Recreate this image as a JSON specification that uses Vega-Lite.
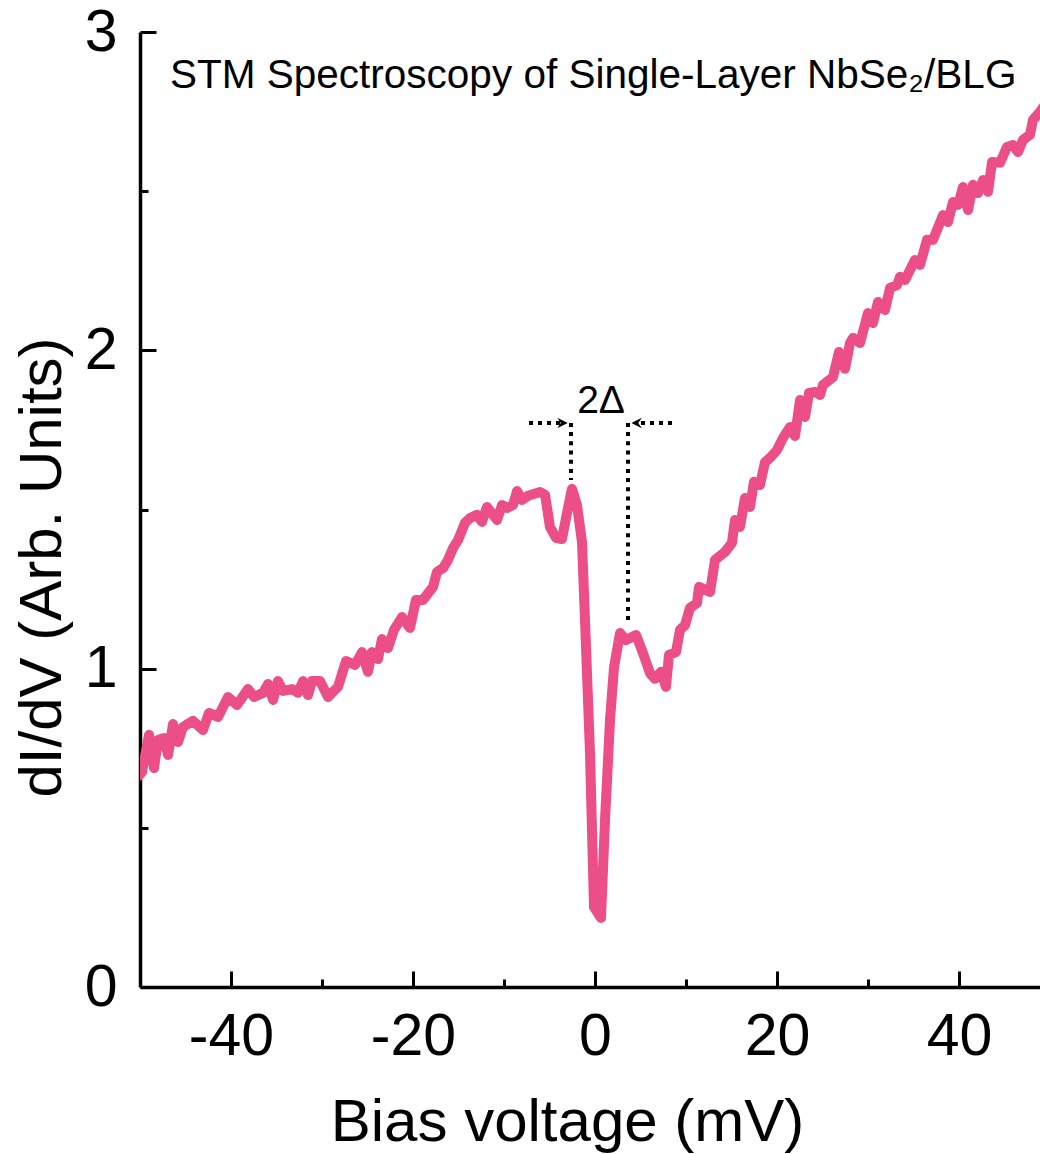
{
  "$schema": "https://vega.github.io/schema/vega-lite/v6.json",
  "width": 900,
  "height": 955,
  "autosize": {"type": "none"},
  "padding": {"left": 140, "top": 32, "right": 0, "bottom": 167},
  "background": "white",
  "config": {
    "view": {"stroke": null},
    "axis": {
      "domainColor": "black", "domainWidth": 3.5, "tickColor": "black", "tickWidth": 3,
      "labelFont": "Liberation Sans", "labelFontSize": 59, "labelColor": "black",
      "titleFont": "Liberation Sans", "titleFontSize": 60, "titleFontWeight": "normal", "titleColor": "black",
      "grid": false
    }
  },
  "datasets": {
    "curve": [
      {"v": -50.3, "g": 0.66},
      {"v": -49.78, "g": 0.675}, {"v": -49.01, "g": 0.792}, {"v": -48.46, "g": 0.688}, {"v": -48.02, "g": 0.776},
      {"v": -47.36, "g": 0.782}, {"v": -46.92, "g": 0.729}, {"v": -46.37, "g": 0.826}, {"v": -45.82, "g": 0.770},
      {"v": -45.27, "g": 0.817}, {"v": -44.18, "g": 0.836}, {"v": -43.08, "g": 0.807}, {"v": -42.42, "g": 0.861},
      {"v": -41.43, "g": 0.848}, {"v": -40.33, "g": 0.911}, {"v": -39.34, "g": 0.886}, {"v": -38.13, "g": 0.936},
      {"v": -37.47, "g": 0.911}, {"v": -36.48, "g": 0.924}, {"v": -35.93, "g": 0.952}, {"v": -35.38, "g": 0.902},
      {"v": -34.84, "g": 0.961}, {"v": -34.29, "g": 0.930}, {"v": -33.30, "g": 0.936}, {"v": -32.64, "g": 0.924},
      {"v": -32.09, "g": 0.961}, {"v": -31.54, "g": 0.917}, {"v": -31.10, "g": 0.961}, {"v": -30.22, "g": 0.961},
      {"v": -29.34, "g": 0.911}, {"v": -28.24, "g": 0.943}, {"v": -27.36, "g": 1.024}, {"v": -26.37, "g": 1.012},
      {"v": -25.60, "g": 1.052}, {"v": -24.95, "g": 0.990}, {"v": -24.51, "g": 1.052}, {"v": -23.85, "g": 1.030},
      {"v": -23.41, "g": 1.093}, {"v": -22.75, "g": 1.065}, {"v": -22.09, "g": 1.122}, {"v": -21.21, "g": 1.162},
      {"v": -20.33, "g": 1.128}, {"v": -19.67, "g": 1.216}, {"v": -18.90, "g": 1.216}, {"v": -17.80, "g": 1.257},
      {"v": -17.36, "g": 1.304}, {"v": -16.70, "g": 1.316}, {"v": -16.15, "g": 1.342}, {"v": -15.60, "g": 1.379},
      {"v": -15.05, "g": 1.404}, {"v": -14.29, "g": 1.458}, {"v": -13.74, "g": 1.473}, {"v": -12.97, "g": 1.483},
      {"v": -12.42, "g": 1.461}, {"v": -11.87, "g": 1.508}, {"v": -10.77, "g": 1.467}, {"v": -10.22, "g": 1.514},
      {"v": -9.67, "g": 1.505}, {"v": -9.01, "g": 1.514}, {"v": -8.57, "g": 1.558}, {"v": -8.02, "g": 1.530},
      {"v": -7.36, "g": 1.543}, {"v": -6.04, "g": 1.555}, {"v": -5.49, "g": 1.546}, {"v": -4.95, "g": 1.445},
      {"v": -4.29, "g": 1.411}, {"v": -3.63, "g": 1.407}, {"v": -3.08, "g": 1.489}, {"v": -2.53, "g": 1.565},
      {"v": -1.98, "g": 1.514}, {"v": -1.43, "g": 1.398}, {"v": -1.10, "g": 1.153}, {"v": -0.55, "g": 0.735},
      {"v": -0.11, "g": 0.251}, {"v": 0.66, "g": 0.217}, {"v": 1.10, "g": 0.525}, {"v": 1.65, "g": 0.839},
      {"v": 2.09, "g": 1.005}, {"v": 2.75, "g": 1.112}, {"v": 3.41, "g": 1.090}, {"v": 4.51, "g": 1.106},
      {"v": 5.27, "g": 1.049}, {"v": 6.04, "g": 0.986}, {"v": 6.59, "g": 0.968}, {"v": 7.25, "g": 0.990},
      {"v": 7.80, "g": 0.943}, {"v": 8.13, "g": 1.043}, {"v": 8.90, "g": 1.052}, {"v": 9.34, "g": 1.122},
      {"v": 9.89, "g": 1.137}, {"v": 10.44, "g": 1.191}, {"v": 11.21, "g": 1.206}, {"v": 11.43, "g": 1.257},
      {"v": 12.64, "g": 1.241}, {"v": 13.19, "g": 1.342}, {"v": 14.29, "g": 1.367}, {"v": 15.05, "g": 1.395},
      {"v": 15.38, "g": 1.467}, {"v": 15.93, "g": 1.445}, {"v": 16.48, "g": 1.536}, {"v": 17.03, "g": 1.508},
      {"v": 17.47, "g": 1.587}, {"v": 18.13, "g": 1.577}, {"v": 18.68, "g": 1.649}, {"v": 19.23, "g": 1.662},
      {"v": 20.00, "g": 1.687}, {"v": 20.66, "g": 1.725}, {"v": 21.43, "g": 1.759}, {"v": 21.98, "g": 1.731},
      {"v": 22.53, "g": 1.844}, {"v": 23.08, "g": 1.791}, {"v": 23.52, "g": 1.866}, {"v": 24.18, "g": 1.869},
      {"v": 24.73, "g": 1.860}, {"v": 25.05, "g": 1.891}, {"v": 26.15, "g": 1.916}, {"v": 26.81, "g": 1.995},
      {"v": 27.47, "g": 1.942}, {"v": 28.02, "g": 2.023}, {"v": 28.35, "g": 2.039}, {"v": 29.12, "g": 2.023},
      {"v": 30.00, "g": 2.117}, {"v": 30.55, "g": 2.086}, {"v": 31.10, "g": 2.152}, {"v": 31.87, "g": 2.127},
      {"v": 32.42, "g": 2.196}, {"v": 33.19, "g": 2.205}, {"v": 33.52, "g": 2.231}, {"v": 34.07, "g": 2.221},
      {"v": 35.16, "g": 2.284}, {"v": 35.71, "g": 2.268}, {"v": 36.48, "g": 2.347}, {"v": 37.14, "g": 2.347},
      {"v": 38.24, "g": 2.425}, {"v": 38.79, "g": 2.403}, {"v": 39.34, "g": 2.466}, {"v": 39.89, "g": 2.457},
      {"v": 40.44, "g": 2.513}, {"v": 40.99, "g": 2.441}, {"v": 41.54, "g": 2.520}, {"v": 42.09, "g": 2.494},
      {"v": 42.64, "g": 2.535}, {"v": 43.19, "g": 2.498}, {"v": 43.63, "g": 2.592}, {"v": 44.51, "g": 2.589},
      {"v": 45.27, "g": 2.639}, {"v": 45.93, "g": 2.645}, {"v": 46.48, "g": 2.623}, {"v": 47.03, "g": 2.661},
      {"v": 47.80, "g": 2.677}, {"v": 48.13, "g": 2.724}, {"v": 48.90, "g": 2.749}, {"v": 49.40, "g": 2.77}
    ],
    "vlines": [
      {"x": -2.64, "y1": 1.772, "y2": 1.593},
      {"x": 3.63, "y1": 1.772, "y2": 1.137}
    ],
    "hlines": [
      {"x1": -7.25, "x2": -3.6, "y": 1.772},
      {"x1": 8.46, "x2": 4.6, "y": 1.772}
    ],
    "heads": [
      {"x": -3.0, "y": 1.772, "dir": "right"},
      {"x": 4.0, "y": 1.772, "dir": "left"}
    ],
    "labels": [
      {"x": 0.66, "y": 1.803, "t": "2Δ", "kind": "delta"},
      {"x": -46.7, "y": 2.824, "t": "STM Spectroscopy of Single-Layer NbSe₂/BLG", "kind": "title"}
    ]
  },
  "layer": [
    {
      "data": {"name": "curve"},
      "mark": {"type": "line", "color": "#EC4E87", "strokeWidth": 10, "strokeJoin": "round", "strokeCap": "round", "clip": true},
      "encoding": {
        "x": {
          "field": "v", "type": "quantitative",
          "scale": {"domain": [-50, 48.9], "nice": false, "zero": false},
          "axis": {
            "values": [-40, -30, -20, -10, 0, 10, 20, 30, 40],
            "tickSize": {"condition": {"test": "datum.value % 20 === 0", "value": -16}, "value": -8},
            "labelExpr": "datum.value % 20 === 0 ? toString(datum.value) : ''",
            "labelPadding": 36,
            "labelFlush": false,
            "title": "Bias voltage (mV)",
            "titleX": 427, "titleY": 153, "titleBaseline": "alphabetic", "titleAlign": "center"
          }
        },
        "y": {
          "field": "g", "type": "quantitative",
          "scale": {"domain": [0, 3], "nice": false},
          "axis": {
            "values": [0, 0.5, 1, 1.5, 2, 2.5, 3],
            "tickSize": {"condition": {"test": "datum.value % 1 === 0", "value": -16}, "value": -8},
            "labelExpr": "datum.value % 1 === 0 ? toString(datum.value) : ''",
            "labelPadding": 39,
            "labelOverlap": false,
            "title": "dI/dV (Arb. Units)",
            "titleAngle": -90, "titleX": -80, "titleY": 535, "titleBaseline": "alphabetic", "titleAlign": "center"
          }
        }
      }
    },
    {
      "mark": {"type": "rule", "color": "black", "strokeWidth": 3.5},
      "encoding": {"y": {"datum": 3, "type": "quantitative"}}
    },
    {
      "data": {"name": "vlines"},
      "mark": {"type": "rule", "color": "black", "strokeWidth": 4, "strokeDash": [4, 5.2]},
      "encoding": {
        "x": {"field": "x", "type": "quantitative"},
        "y": {"field": "y1", "type": "quantitative"},
        "y2": {"field": "y2"}
      }
    },
    {
      "data": {"name": "hlines"},
      "mark": {"type": "rule", "color": "black", "strokeWidth": 4, "strokeDash": [4, 5]},
      "encoding": {
        "x": {"field": "x1", "type": "quantitative"},
        "x2": {"field": "x2"},
        "y": {"field": "y", "type": "quantitative"}
      }
    },
    {
      "data": {"name": "heads"},
      "transform": [{"filter": "datum.dir === 'right'"}],
      "mark": {"type": "point", "shape": "M0,0L-2,-1L-1.3,0L-2,1Z", "filled": true, "color": "black", "size": 110, "opacity": 1},
      "encoding": {
        "x": {"field": "x", "type": "quantitative"},
        "y": {"field": "y", "type": "quantitative"}
      }
    },
    {
      "data": {"name": "heads"},
      "transform": [{"filter": "datum.dir === 'left'"}],
      "mark": {"type": "point", "shape": "M0,0L2,-1L1.3,0L2,1Z", "filled": true, "color": "black", "size": 110, "opacity": 1},
      "encoding": {
        "x": {"field": "x", "type": "quantitative"},
        "y": {"field": "y", "type": "quantitative"}
      }
    },
    {
      "data": {"name": "labels"},
      "transform": [{"filter": "datum.kind === 'delta'"}],
      "mark": {"type": "text", "font": "Liberation Sans", "fontSize": 39, "color": "black", "align": "center", "baseline": "alphabetic"},
      "encoding": {
        "x": {"field": "x", "type": "quantitative"},
        "y": {"field": "y", "type": "quantitative"},
        "text": {"field": "t"}
      }
    },
    {
      "data": {"name": "labels"},
      "transform": [{"filter": "datum.kind === 'title'"}],
      "mark": {"type": "text", "font": "Liberation Sans", "fontSize": 40.5, "color": "black", "align": "left", "baseline": "alphabetic"},
      "encoding": {
        "x": {"field": "x", "type": "quantitative"},
        "y": {"field": "y", "type": "quantitative"},
        "text": {"field": "t"}
      }
    }
  ]
}
